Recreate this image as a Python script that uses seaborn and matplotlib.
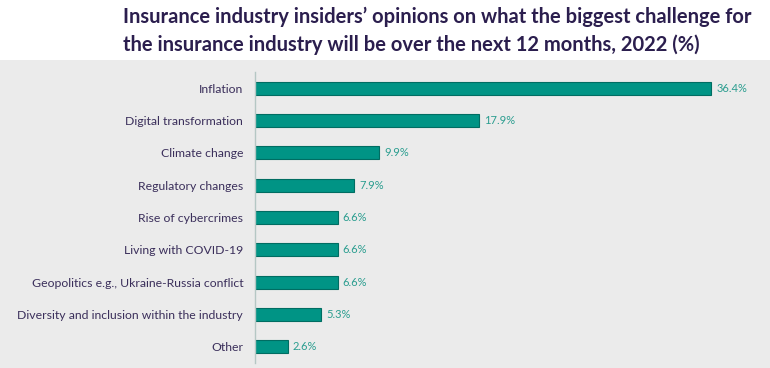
import matplotlib.pyplot as plt
import matplotlib.patches as mpatches
import numpy as np
import pandas as pd
import seaborn as sns

challenges = [
    'Inflation',
    'Digital transformation',
    'Climate change',
    'Regulatory changes',
    'Rise of cybercrimes',
    'Living with COVID-19',
    'Geopolitics e.g., Ukraine-Russia conflict',
    'Diversity and inclusion within the industry',
    'Other',
]
shares = [36.4, 17.9, 9.9, 7.9, 6.6, 6.6, 6.6, 5.3, 2.6]
title = ('Insurance industry insiders\u2019 opinions on what the biggest challenge for\n'
         'the insurance industry will be over the next 12 months, 2022 (%)')

df = pd.DataFrame({'challenge': challenges, 'share': shares})

sns.set_style('white')
plt.rcParams['font.family'] = ['Lato', 'DejaVu Sans']

fig = plt.figure(figsize=(7.7, 3.68), dpi=100, facecolor='white')

# grey panel behind the chart
fig.patches.append(mpatches.Rectangle((0, 0), 1, 308 / 368, transform=fig.transFigure,
                                      facecolor='#ebebeb', edgecolor='none', zorder=-1))

ax = fig.add_axes([255 / 770, 5 / 368, 515 / 770, 291 / 368])
ax.set_facecolor('none')
ax.set_zorder(2)

sns.barplot(data=df, x='share', y='challenge', color='#009485', width=0.4,
            edgecolor='#006d62', linewidth=0.8, saturation=1, ax=ax)

ax.set_xlim(0, 41.1)
ax.set_ylim(8.5, -0.5)
ax.set(xlabel='', ylabel='')
ax.set_xticks([])
for side in ['top', 'right', 'bottom']:
    ax.spines[side].set_visible(False)
ax.spines['left'].set_color('#b5c7c4')
ax.spines['left'].set_linewidth(1)

ax.tick_params(axis='y', length=0, pad=8.5, labelsize=8.8, labelcolor='#3b2f5b')
ax.set_yticks(np.arange(-0.5, 9, 1), minor=True)
ax.tick_params(axis='y', which='minor', length=3, color='#b5c7c4', width=1)

for i, v in enumerate(shares):
    ax.text(v + 0.4, i, f'{v:.1f}%', va='center', ha='left', fontsize=8, color='#2a9d8f')

fig.text(123 / 770, 1 - 7 / 368, title, ha='left', va='top', fontsize=14.5,
         fontweight='bold', color='#2b1e4e', linespacing=1.45)

fig.savefig('out.png', dpi=100, facecolor='white')
